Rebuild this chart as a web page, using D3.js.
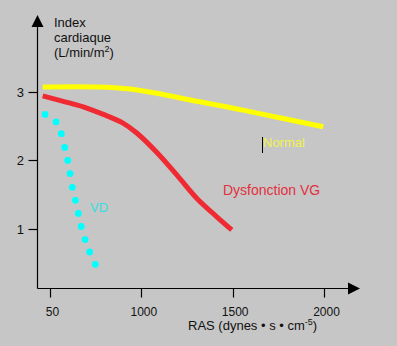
<!DOCTYPE html>
<html lang="fr">
<head>
<meta charset="UTF-8">
<title>Index cardiaque / RAS</title>
<script src="https://d3js.org/d3.v7.min.js"></script>
<style>
    body { margin: 0; background: #c6c6c6; }
    svg { display: block; font-family: "Liberation Sans", Arial, sans-serif; }
</style>
</head>
<body>
<svg id="chart" width="397" height="346"></svg>
<script>
    // Courbes : RAS (dynes.s.cm-5) -> index cardiaque (L/min/m2)
    var normalRas   = [460, 756, 938, 1119, 1303, 1486, 1595, 1777, 1996];
    var normalIndex = [3.07, 3.07, 3.04, 2.96, 2.86, 2.77, 2.71, 2.61, 2.49];

    var vgRas   = [460, 573, 682, 792, 902, 975, 1084, 1194, 1303, 1413, 1495];
    var vgIndex = [2.94, 2.86, 2.78, 2.67, 2.54, 2.40, 2.12, 1.79, 1.45, 1.18, 0.99];

    var vdRas   = [473, 533, 562, 580, 597, 610, 622, 639, 655, 671, 692, 717, 748];
    var vdIndex = [2.67, 2.56, 2.39, 2.19, 2.00, 1.81, 1.61, 1.42, 1.23, 1.04, 0.85, 0.67, 0.49];

    var xTicks = [500, 1000, 1500, 2000];
    var xTickLabels = ["50", "1000", "1500", "2000"];
    var yTicks = [1, 2, 3];

    var svg = d3.select("#chart");

    var x = d3.scaleLinear().domain([500, 2000]).range([50, 324]);
    var y = d3.scaleLinear().domain([0, 3]).range([298, 91.7]);

    var x0 = Math.round(x(430)) + 0.5, y0 = Math.round(y(0.15)) + 0.5;

    // axes avec fleches
    var axes = svg.append("g").attr("stroke", "#000").attr("stroke-width", 1.2);
    axes.append("line").attr("x1", x0).attr("x2", x0).attr("y1", y0).attr("y2", 25);
    axes.append("line").attr("x1", x0).attr("x2", 350).attr("y1", y0).attr("y2", y0);
    svg.append("path")
        .attr("d", "M" + x0 + ",15 L" + (x0 + 6) + ",27 L" + (x0 - 6) + ",27 Z")
        .attr("fill", "#000");
    svg.append("path")
        .attr("d", "M360," + y0 + " L348," + (y0 - 6) + " L348," + (y0 + 6) + " Z")
        .attr("fill", "#000");

    // graduations
    axes.selectAll(".yt").data(yTicks).join("line")
        .attr("x1", x0 - 9).attr("x2", x0)
        .attr("y1", function (d) { return Math.round(y(d)) + 0.5; })
        .attr("y2", function (d) { return Math.round(y(d)) + 0.5; });
    svg.selectAll(".ytl").data(yTicks).join("text")
        .attr("x", 24).attr("y", function (d) { return y(d) + 5; })
        .attr("text-anchor", "end").attr("font-size", 13).attr("fill", "#111")
        .text(function (d) { return d; });

    axes.selectAll(".xt").data(xTicks).join("line")
        .attr("x1", function (d) { return Math.round(x(d)) + 0.5; })
        .attr("x2", function (d) { return Math.round(x(d)) + 0.5; })
        .attr("y1", y0).attr("y2", y0 + 9);
    svg.selectAll(".xtl").data(xTicks).join("text")
        .attr("x", function (d) { return x(d) + 2.5; }).attr("y", 316)
        .attr("text-anchor", "middle").attr("font-size", 12).attr("fill", "#111")
        .text(function (d, i) { return xTickLabels[i]; });

    // titres des axes
    var yt = svg.append("text").attr("font-size", 13).attr("fill", "#111");
    yt.append("tspan").attr("x", 54).attr("y", 27).text("Index");
    yt.append("tspan").attr("x", 54).attr("y", 42).text("cardiaque");
    yt.append("tspan").attr("x", 54).attr("y", 57).text("(L/min/m");
    yt.append("tspan").attr("dy", -5).attr("font-size", 9).text("2");
    yt.append("tspan").attr("dy", 5).text(")");

    var xt = svg.append("text").attr("x", 188).attr("y", 330)
        .attr("font-size", 13).attr("fill", "#111");
    xt.append("tspan").text("RAS (dynes \u2022 s \u2022  cm");
    xt.append("tspan").attr("dy", -5).attr("font-size", 9).text("-5");
    xt.append("tspan").attr("dy", 5).text(")");

    // courbes
    var line = d3.line()
        .x(function (d) { return x(d[0]); })
        .y(function (d) { return y(d[1]); })
        .curve(d3.curveCatmullRom.alpha(0.5));

    svg.append("path")
        .datum(d3.zip(normalRas, normalIndex))
        .attr("d", line).attr("fill", "none")
        .attr("stroke", "#ffff00").attr("stroke-width", 5);

    svg.append("path")
        .datum(d3.zip(vgRas, vgIndex))
        .attr("d", line).attr("fill", "none")
        .attr("stroke", "#f02a33").attr("stroke-width", 5);

    svg.selectAll(".vd").data(d3.zip(vdRas, vdIndex)).join("circle")
        .attr("cx", function (d) { return x(d[0]); })
        .attr("cy", function (d) { return y(d[1]); })
        .attr("r", 3.4).attr("fill", "#00ffff");

    // etiquettes
    svg.append("text").attr("x", 263).attr("y", 147).attr("font-size", 13)
        .attr("fill", "#f2f24a").text("Normal");
    svg.append("line").attr("x1", 262.5).attr("x2", 262.5).attr("y1", 137).attr("y2", 153)
        .attr("stroke", "#000").attr("stroke-width", 1);
    svg.append("text").attr("x", 223).attr("y", 195).attr("font-size", 14)
        .attr("fill", "#e2303e").text("Dysfonction VG");
    svg.append("text").attr("x", 90).attr("y", 212).attr("font-size", 13)
        .attr("fill", "#38dede").text("VD");
</script>
</body>
</html>
